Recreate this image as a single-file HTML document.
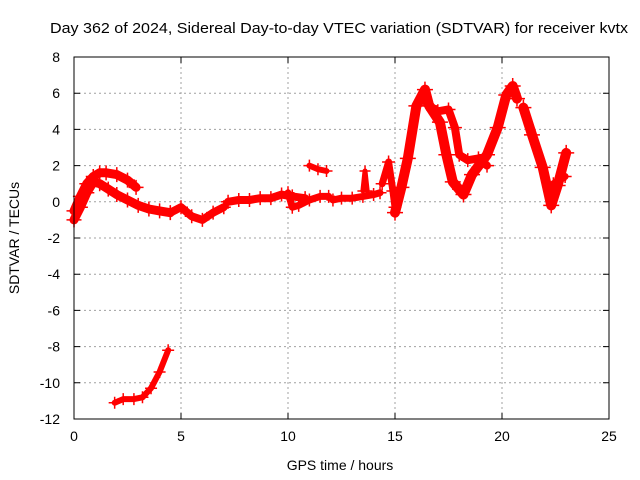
<!DOCTYPE html>
<html><head><meta charset="utf-8"><style>
body{margin:0;background:#fff}
svg{display:block;font-family:"Liberation Sans",Arial,sans-serif}
</style></head><body>
<svg id="chart" width="640" height="480" viewBox="0 0 640 480" xmlns="http://www.w3.org/2000/svg">
<text x="50" y="33" font-size="15" textLength="578" lengthAdjust="spacingAndGlyphs">Day 362 of 2024, Sidereal Day-to-day VTEC variation (SDTVAR) for receiver kvtx</text>
<text x="340" y="470" font-size="14" text-anchor="middle">GPS time / hours</text>
<text x="0" y="0" font-size="14" text-anchor="middle" transform="translate(19,238) rotate(-90)">SDTVAR / TECUs</text>
<g id="grid"></g>
<g id="ticks"></g>
<g id="series"></g>
<rect x="74" y="57" width="535" height="362" fill="none" stroke="#000" stroke-width="1"/>
</svg>
<script>
const xTicks=[0,5,10,15,20,25];
const yTicks=[-12,-10,-8,-6,-4,-2,0,2,4,6,8];
const trackTimes=[
 [0,0.3,0.6,0.9,1.2,1.5,2.0,2.5,2.9],
 [0,0.3,0.6,0.9,1.2,1.6,2.0,2.5,3.0,3.5,4.0,4.5],
 [4.5,5.0,5.5,6.0,6.5,7.0],
 [7.2,7.7,8.2,8.7,9.2,9.7,10.2,10.8],
 [10.0,10.2,10.5,11.0,11.5,11.9],
 [11.0,11.4,11.8],
 [12.1,12.5,13.0,13.5,14.0,14.3],
 [13.5,13.6,13.7],
 [14.4,14.7,14.9,15.0],
 [15.0,15.3,15.6,16.0,16.4,16.6,17.1,17.4,17.7,18.2,18.6,19.3,19.8,20.2,20.5,20.7],
 [16.5,17.0,17.5,17.8,18.0,18.4,18.9,19.3],
 [21.0,21.4,21.9,22.3,22.6,23.0],
 [22.4,22.7,22.95],
 [1.9,2.3,2.8,3.2,3.6,4.0,4.4]
];
const trackValues=[
 [-0.5,0.3,1.0,1.4,1.6,1.6,1.5,1.2,0.8],
 [-1.0,-0.3,0.5,1.1,1.0,0.7,0.4,0.1,-0.2,-0.4,-0.5,-0.6],
 [-0.6,-0.3,-0.8,-1.0,-0.6,-0.3],
 [0.0,0.1,0.1,0.2,0.2,0.4,0.3,0.2],
 [0.5,-0.3,-0.2,0.1,0.3,0.3],
 [2.0,1.8,1.7],
 [0.1,0.2,0.2,0.3,0.4,0.5],
 [0.6,1.7,0.6],
 [1.0,2.2,0.6,-0.3],
 [-0.6,0.8,2.4,5.3,6.2,5.3,4.4,2.6,1.1,0.4,1.5,2.6,4.1,5.9,6.4,5.7],
 [5.4,5.0,5.1,4.1,2.6,2.3,2.4,2.0],
 [5.2,3.7,1.9,-0.2,0.9,2.7],
 [1.0,1.2,1.4],
 [-11.1,-10.9,-10.9,-10.8,-10.3,-9.4,-8.2]
];
const trackWidths=[9,9,8,8,7,6,7,5,7,10,8,10,7,6];
const NS="http://www.w3.org/2000/svg";
const X0=74,X1=609,Y0=419,Y1=57,xMin=0,xMax=25,yMin=-12,yMax=8;
const xs=t=>X0+(t-xMin)/(xMax-xMin)*(X1-X0);
const ys=v=>Y0-(v-yMin)/(yMax-yMin)*(Y0-Y1);
function mk(tag,attrs,parent){const e=document.createElementNS(NS,tag);for(const k in attrs)e.setAttribute(k,attrs[k]);parent.appendChild(e);return e;}
const grid=document.getElementById('grid'),ticks=document.getElementById('ticks'),series=document.getElementById('series');
xTicks.forEach(t=>{
 const x=xs(t);
 if(t>xMin&&t<xMax){const l=mk('line',{x1:x,y1:Y0,x2:x,y2:Y1,stroke:'#a0a0a0','stroke-dasharray':'2,3'},grid);
 
 }
 const tk=mk('path',{d:`M${x},${Y0}v-6M${x},${Y1}v6`,stroke:'#000'},ticks);
 
 
 const tx=mk('text',{x:x,y:Y0+22,'font-size':14,'text-anchor':'middle'},ticks);tx.textContent=t;
 
 
});
yTicks.forEach(v=>{
 const y=ys(v);
 if(v>yMin&&v<yMax){const l=mk('line',{x1:X0,y1:y,x2:X1,y2:y,stroke:'#a0a0a0','stroke-dasharray':'2,3'},grid);
 
 }
 const tk=mk('path',{d:`M${X0},${y}h6M${X1},${y}h-6`,stroke:'#000'},ticks);
 
 
 const tx=mk('text',{x:X0-14,y:y+5,'font-size':14,'text-anchor':'end'},ticks);tx.textContent=v;
 
 
});
trackTimes.forEach((tt,i)=>{
 const vv=trackValues[i];
 const d=tt.map((t,j)=>(j?'L':'M')+xs(t).toFixed(1)+','+ys(vv[j]).toFixed(1)).join('');
 const p=mk('path',{d:d,fill:'none',stroke:'#ff0000','stroke-width':trackWidths[i],'stroke-linejoin':'round','stroke-linecap':'round'},series);
 
 
 tt.forEach((t,j)=>{
  const x=xs(t),y=ys(vv[j]),s=trackWidths[i]/2+3;
  const m=mk('path',{d:`M${x-s},${y}h${2*s}M${x},${y-s}v${2*s}`,stroke:'#ff0000','stroke-width':1.5},series);
  
  
 });
});
</script>
</body></html>
